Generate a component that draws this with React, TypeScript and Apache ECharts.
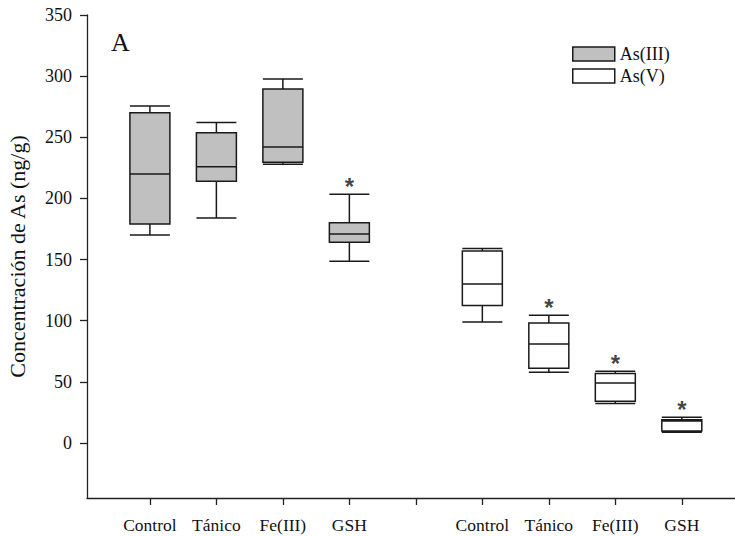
import React, { useEffect, useRef } from "react";
import * as echarts from "echarts";

const groupCategories = ["Control", "Tánico", "Fe(III)", "GSH"];
const asIIIPositions = [1, 2, 3, 4];
const asVPositions = [6, 7, 8, 9];
const allTickPositions = [1, 2, 3, 4, 5, 6, 7, 8, 9];
// [min, Q1, median, Q3, max]
const asIIIValues = [
  [170, 179, 220, 270, 275.5],
  [184, 214, 226, 253.7, 262],
  [228, 229.5, 242, 289.4, 297.6],
  [148.7, 164.2, 171, 180, 203.5],
];
const asVValues = [
  [99, 112.4, 130, 157, 159],
  [57.9, 61.1, 81, 98.2, 104.5],
  [32.2, 34.1, 49.1, 56.8, 58.7],
  [8.8, 9.8, 18, 19, 21],
];
const asIIISignificant = [false, false, false, true];
const asVSignificant = [false, true, true, true];
const yTicks = [0, 50, 100, 150, 200, 250, 300, 350];
const yMin = -45;
const yMax = 350;
const xMin = 0.054;
const xMax = 9.8;
const panelLetter = "A";
const asIIIFill = "#c0c0c0";
const asVFill = "#ffffff";

const serif = "Liberation Serif, Times New Roman, serif";

export default function App() {
  const ref = useRef<HTMLDivElement>(null);
  useEffect(() => {
    if (!ref.current) return;
    const chart = echarts.init(ref.current, undefined, { renderer: "svg" });

    const labelMap: Record<number, string> = {};
    asIIIPositions.forEach((p, i) => (labelMap[p] = groupCategories[i]));
    asVPositions.forEach((p, i) => (labelMap[p] = groupCategories[i]));

    const stars: number[][] = [];
    asIIIValues.forEach((v, i) => {
      if (asIIISignificant[i]) stars.push([asIIIPositions[i], v[4]]);
    });
    asVValues.forEach((v, i) => {
      if (asVSignificant[i]) stars.push([asVPositions[i], v[4]]);
    });

    const boxStyle = (fill: string) => ({
      color: fill,
      borderColor: "#1a1a1a",
      borderWidth: 1.5,
    });

    const hiddenX = {
      type: "value",
      min: xMin,
      max: xMax,
      show: false,
      splitLine: { show: false },
    };

    chart.setOption({
      animation: false,
      backgroundColor: "#ffffff",
      grid: {
        left: 87,
        top: 15,
        right: 0,
        bottom: 38,
        containLabel: false,
        outerBoundsMode: "none",
      },
      legend: {
        data: [
          { name: "As(III)", itemStyle: boxStyle(asIIIFill) },
          { name: "As(V)", itemStyle: boxStyle(asVFill) },
        ],
        orient: "vertical",
        left: 567,
        top: 40,
        icon: "rect",
        itemWidth: 42,
        itemHeight: 14,
        itemGap: 4,
        textStyle: { fontFamily: serif, fontSize: 18, color: "#111" },
      },
      graphic: [
        {
          type: "text",
          left: 111,
          top: 29,
          style: { text: panelLetter, font: `26px ${serif}`, fill: "#111" },
        },
      ],
      xAxis: [
        {
          type: "value",
          min: xMin,
          max: xMax,
          splitLine: { show: false },
          axisLine: { show: true, onZero: false, lineStyle: { color: "#222", width: 1.3 } },
          axisTick: {
            show: true,
            customValues: allTickPositions,
            length: 7,
            lineStyle: { color: "#222", width: 1.3 },
          },
          axisLabel: {
            customValues: [...asIIIPositions, ...asVPositions],
            formatter: (v: number) => labelMap[Math.round(v)] ?? "",
            fontFamily: serif,
            fontSize: 17.5,
            color: "#111",
            margin: 18,
          },
        },
        hiddenX,
        hiddenX,
      ],
      yAxis: {
        type: "value",
        min: yMin,
        max: yMax,
        name: "Concentración de As (ng/g)",
        nameLocation: "middle",
        nameGap: 59,
        nameTextStyle: { fontFamily: serif, fontSize: 22, color: "#111" },
        splitLine: { show: false },
        axisLine: { show: true, onZero: false, lineStyle: { color: "#222", width: 1.3 } },
        axisTick: {
          show: true,
          customValues: yTicks,
          length: 7,
          lineStyle: { color: "#222", width: 1.3 },
        },
        axisLabel: {
          customValues: yTicks,
          fontFamily: serif,
          fontSize: 18,
          color: "#111",
          margin: 15,
        },
      },
      series: [
        {
          name: "As(III)",
          type: "boxplot",
          layout: "horizontal",
          xAxisIndex: 1,
          boxWidth: [40, 40],
          itemStyle: boxStyle(asIIIFill),
          data: asIIIValues.map((v, i) => [asIIIPositions[i], ...v]),
        },
        {
          name: "As(V)",
          type: "boxplot",
          layout: "horizontal",
          xAxisIndex: 2,
          boxWidth: [40, 40],
          itemStyle: boxStyle(asVFill),
          data: asVValues.map((v, i) => [asVPositions[i], ...v]),
        },
        {
          name: "sig",
          type: "scatter",
          xAxisIndex: 0,
          symbolSize: 0,
          data: stars,
          label: {
            show: true,
            position: "top",
            distance: -4,
            formatter: "*",
            fontFamily: "Liberation Sans, Arial, sans-serif",
            fontWeight: "bold",
            fontSize: 24,
            color: "#111",
          },
        },
      ],
    });
    return () => chart.dispose();
  }, []);
  return (
    <div
      ref={ref}
      style={{ position: "fixed", left: 0, top: 0, width: 735, height: 536 }}
    />
  );
}
